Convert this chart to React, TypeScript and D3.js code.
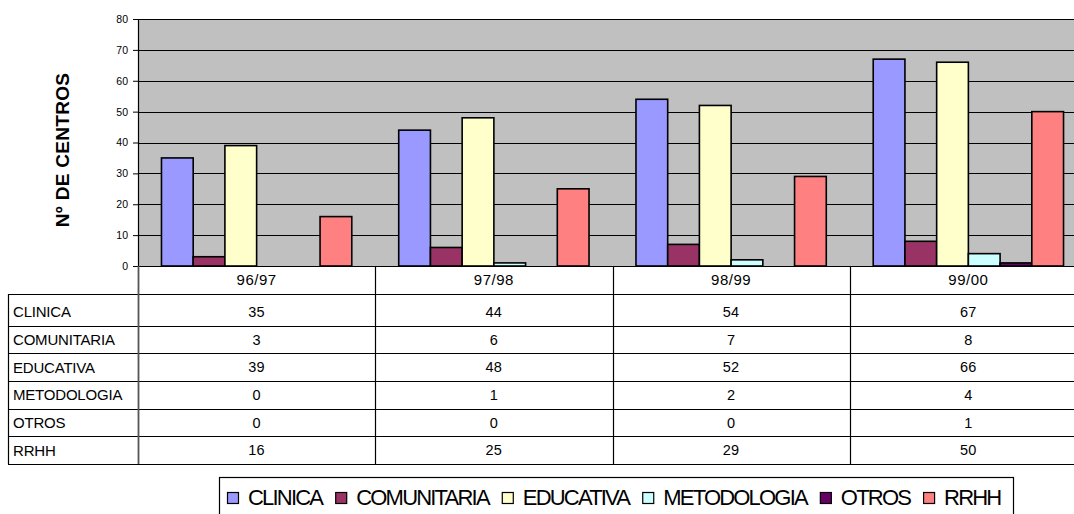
import React, { useRef, useEffect } from "react";
import * as d3 from "d3";

const years = ["96/97", "97/98", "98/99", "99/00"];
const series = ["CLINICA", "COMUNITARIA", "EDUCATIVA", "METODOLOGIA", "OTROS", "RRHH"];
const colors = ["#9999FF", "#993366", "#FFFFCC", "#CCFFFF", "#660066", "#FF8080"];

const clinica = [35, 44, 54, 67];
const comunitaria = [3, 6, 7, 8];
const educativa = [39, 48, 52, 66];
const metodologia = [0, 1, 2, 4];
const otros = [0, 0, 0, 1];
const rrhh = [16, 25, 29, 50];

const yTicks = [0, 10, 20, 30, 40, 50, 60, 70, 80];

const values = [clinica, comunitaria, educativa, metodologia, otros, rrhh];
const font = "'Liberation Sans', Arial, sans-serif";

export default function App() {
  const ref = useRef<SVGSVGElement>(null);

  const width = 1074;
  const height = 514;
  const left = 138;
  const right = 1087;
  const top = 19;
  const bottom = 266;

  useEffect(() => {
    const svg = d3.select(ref.current);
    svg.selectAll("*").remove();

    const x = d3.scaleBand().domain(years).range([left, right]);
    const xs = d3
      .scaleBand()
      .domain(series)
      .range([0, x.bandwidth()])
      .paddingOuter(0.74);
    const y = d3.scaleLinear().domain([0, 80]).range([bottom, top]);

    // plot background
    svg
      .append("rect")
      .attr("x", left)
      .attr("y", top)
      .attr("width", right - left)
      .attr("height", bottom - top)
      .attr("fill", "#C0C0C0");

    // gridlines
    svg
      .append("g")
      .selectAll("line")
      .data(yTicks.filter((t) => t > 0))
      .join("line")
      .attr("x1", left)
      .attr("x2", right)
      .attr("y1", (d) => Math.round(y(d)) + 0.5)
      .attr("y2", (d) => Math.round(y(d)) + 0.5)
      .attr("stroke", "#000")
      .attr("stroke-width", 1);

    // bars
    const rows = series.flatMap((s, si) =>
      years.map((yr, yi) => ({ s, si, yr, v: values[si][yi] }))
    );
    svg
      .append("g")
      .selectAll("rect")
      .data(rows.filter((d) => d.v > 0))
      .join("rect")
      .attr("x", (d) => (x(d.yr) as number) + (xs(d.s) as number))
      .attr("y", (d) => y(d.v))
      .attr("width", xs.bandwidth())
      .attr("height", (d) => bottom - y(d.v))
      .attr("fill", (d) => colors[d.si])
      .attr("stroke", "#000")
      .attr("stroke-width", 1.6);

    // y axis
    const ya = svg
      .append("g")
      .attr("transform", `translate(${left},0)`)
      .call(d3.axisLeft(y).tickValues(yTicks).tickSize(5).tickPadding(5));
    ya.select(".domain").attr("stroke", "#000").attr("stroke-width", 1.2);
    ya.selectAll("text")
      .attr("font-family", font)
      .attr("font-size", 10.5)
      .attr("fill", "#000");

    svg
      .append("text")
      .attr("transform", `translate(69,150) rotate(-90)`)
      .attr("text-anchor", "middle")
      .attr("font-family", font)
      .attr("font-weight", "bold")
      .attr("font-size", 19)
      .attr("letter-spacing", 0.3)
      .text("Nº DE CENTROS");

    // data table
    const headBottom = 294;
    const tableBottom = 464;
    const r = d3.scaleBand().domain(series).range([298, tableBottom]);
    const t = svg.append("g");

    t.append("line")
      .attr("x1", left)
      .attr("x2", right)
      .attr("y1", bottom + 0.5)
      .attr("y2", bottom + 0.5)
      .attr("stroke", "#000")
      .attr("stroke-width", 1.2);

    t.selectAll("line.h")
      .data([headBottom, ...series.map((s) => (r(s) as number) + r.bandwidth())])
      .join("line")
      .attr("class", "h")
      .attr("x1", 8)
      .attr("x2", right)
      .attr("y1", (d) => Math.round(d) + 0.5)
      .attr("y2", (d) => Math.round(d) + 0.5)
      .attr("stroke", "#000")
      .attr("stroke-width", 1.2);

    t.append("line")
      .attr("x1", 8.5)
      .attr("x2", 8.5)
      .attr("y1", headBottom)
      .attr("y2", tableBottom)
      .attr("stroke", "#000")
      .attr("stroke-width", 1.2);

    t.selectAll("line.v")
      .data(years)
      .join("line")
      .attr("class", "v")
      .attr("x1", (d) => Math.round(x(d) as number) + 0.5)
      .attr("x2", (d) => Math.round(x(d) as number) + 0.5)
      .attr("y1", bottom)
      .attr("y2", tableBottom)
      .attr("stroke", (d, i) => (i === 0 ? "#555" : "#000"))
      .attr("stroke-width", (d, i) => (i === 0 ? 1.8 : 1.2));

    t.selectAll("text.yr")
      .data(years)
      .join("text")
      .attr("class", "yr")
      .attr("x", (d) => (x(d) as number) + x.bandwidth() / 2)
      .attr("y", 285)
      .attr("text-anchor", "middle")
      .attr("font-family", font)
      .attr("font-size", 15)
      .attr("letter-spacing", 0.5)
      .text((d) => d);

    t.selectAll("text.lab")
      .data(series)
      .join("text")
      .attr("class", "lab")
      .attr("x", 13)
      .attr("y", (d) => (r(d) as number) + r.bandwidth() / 2 + 5.5)
      .attr("font-family", font)
      .attr("font-size", 15)
      .attr("letter-spacing", -0.2)
      .text((d) => d);

    t.selectAll("text.val")
      .data(rows)
      .join("text")
      .attr("class", "val")
      .attr("x", (d) => (x(d.yr) as number) + x.bandwidth() / 2)
      .attr("y", (d) => (r(d.s) as number) + r.bandwidth() / 2 + 5)
      .attr("text-anchor", "middle")
      .attr("font-family", font)
      .attr("font-size", 14.5)
      .attr("letter-spacing", 0.3)
      .text((d) => d.v);

    // legend
    const lg = svg.append("g");
    lg.append("rect")
      .attr("x", 219.5)
      .attr("y", 477.5)
      .attr("width", 794)
      .attr("height", 60)
      .attr("fill", "#fff")
      .attr("stroke", "#000")
      .attr("stroke-width", 1.2);

    let cx = 227;
    series.forEach((s, i) => {
      lg.append("rect")
        .attr("x", cx + 0.5)
        .attr("y", 492.5)
        .attr("width", 11)
        .attr("height", 11)
        .attr("fill", colors[i])
        .attr("stroke", "#000")
        .attr("stroke-width", 1.2);
      const tx = lg
        .append("text")
        .attr("x", cx + 21)
        .attr("y", 505)
        .attr("font-family", font)
        .attr("font-size", 22)
        .attr("letter-spacing", -1.8)
        .text(s);
      const w = (tx.node() as SVGTextElement).getComputedTextLength();
      cx = cx + 21 + w + 13;
    });
  }, []);

  return (
    <svg
      ref={ref}
      width={width}
      height={height}
      style={{ position: "absolute", left: 0, top: 0, background: "#fff" }}
    ></svg>
  );
}
